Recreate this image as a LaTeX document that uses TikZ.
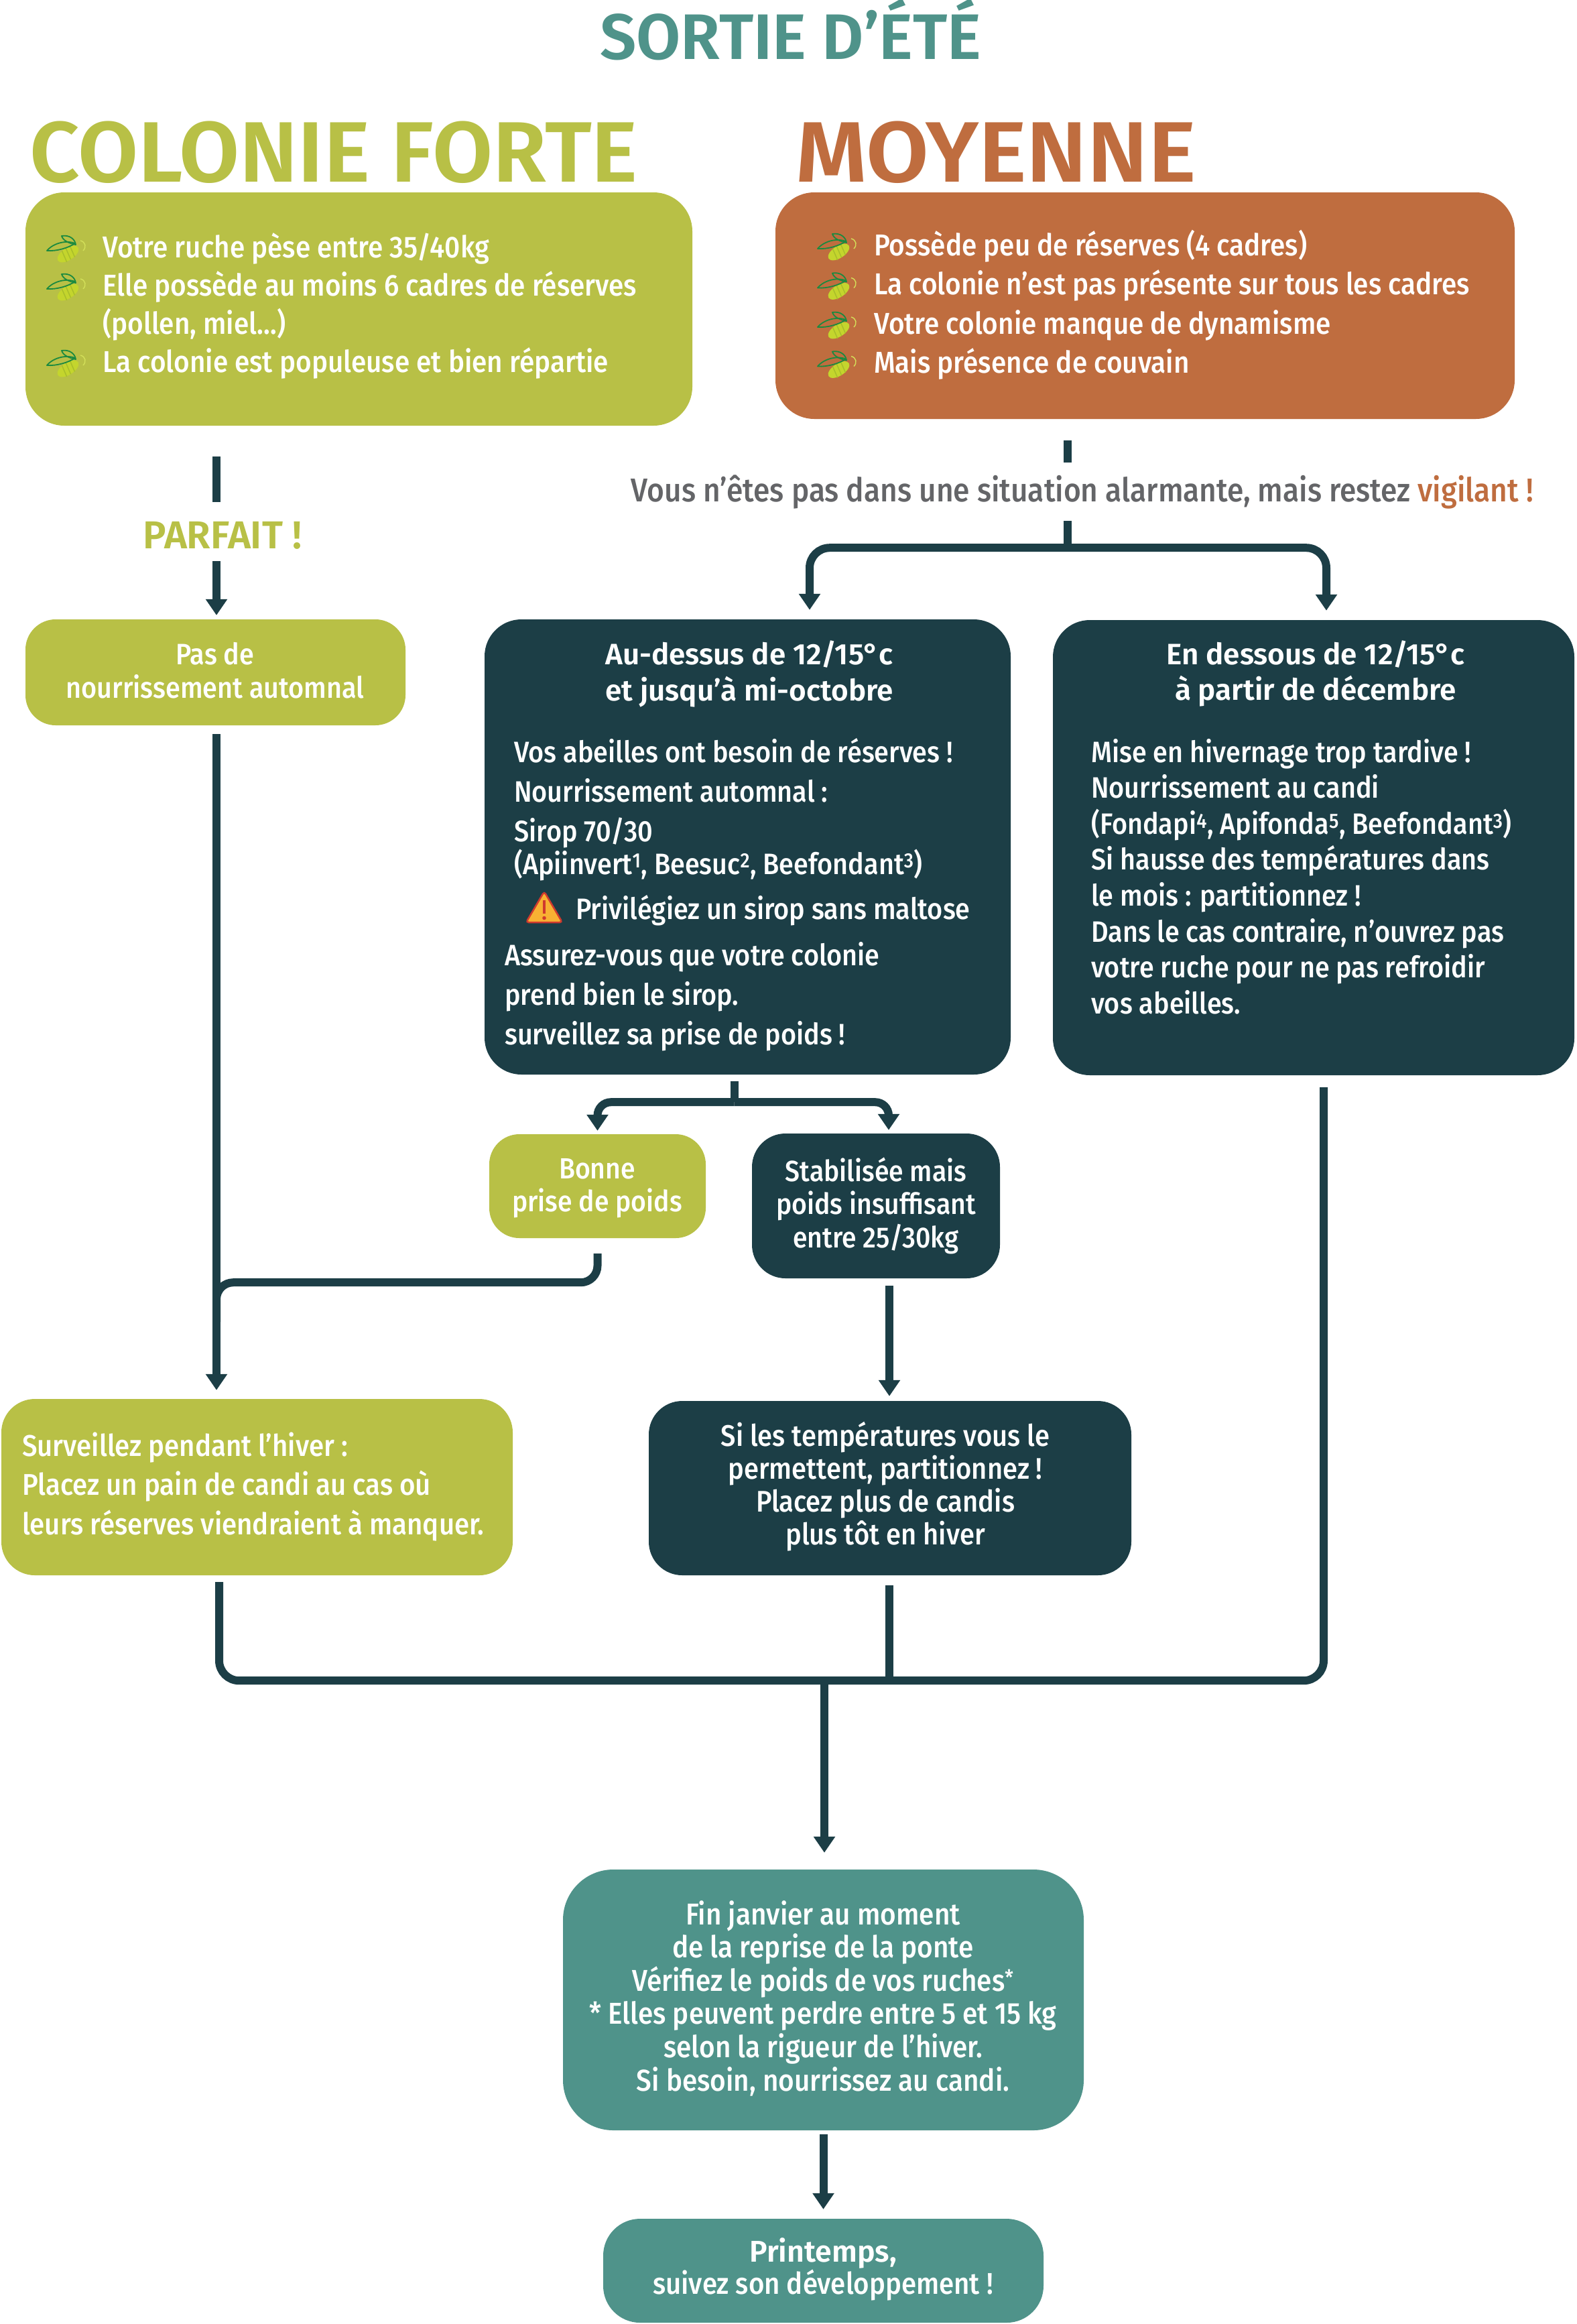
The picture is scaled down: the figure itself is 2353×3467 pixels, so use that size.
\documentclass[tikz,border=0pt]{standalone}
\usepackage{fontspec}
\setmainfont{Fira Sans}[UprightFont={* Medium}, BoldFont={* SemiBold}, FakeStretch=0.9]
\newfontfamily\headfont{Fira Sans}[UprightFont={* SemiBold}, BoldFont={* Bold}]
\usetikzlibrary{arrows.meta,calc}
\definecolor{cOlive}{HTML}{B8C046}
\definecolor{cRust}{HTML}{BF6D3F}
\definecolor{cDeep}{HTML}{1C3E46}
\definecolor{cSea}{HTML}{4F938A}
\definecolor{cGrey}{HTML}{646568}
\definecolor{cBeeWing}{HTML}{1B8A3F}
\definecolor{cBeeBody}{HTML}{C4D52D}
\definecolor{cBeeStripe}{HTML}{A9BE2A}
\definecolor{cBeeAnt}{HTML}{D3E05A}
\definecolor{cWarnFill}{HTML}{F8B133}
\definecolor{cWarnRed}{HTML}{D03A2E}
\newcommand\Lines[2]{\vtop{\baselineskip=#1\relax\lineskiplimit=-1000pt\relax\halign{##\hfil\cr#2\crcr}}}
\newcommand\CLines[2]{\vtop{\baselineskip=#1\relax\lineskiplimit=-1000pt\relax\halign{\hfil##\hfil\cr#2\crcr}}}
\newcommand\fs[1]{\fontsize{#1pt}{#1pt}\selectfont}
\begin{document}
\begin{tikzpicture}[x=1pt,y=-1pt,
  panel/.style={inner sep=0pt, draw=none},
  txt/.style={inner sep=0pt, text=white},
  conn/.style={draw=cDeep, line width=12pt},
  connarrow/.style={conn, -{Triangle[width=31pt,length=24pt]}},
  bee/.pic={
    \fill[cBeeBody, shift={(1.5,8)}, rotate=33] (0,0) ellipse [x radius=18pt, y radius=9pt];
    \foreach \s in {-8,-1,6} \draw[cBeeStripe, line width=1.5pt, shift={(1.5,8)}, rotate=33] (\s pt,-9pt) -- (\s pt+3pt,9pt);
    \draw[cBeeWing, line width=1.8pt, line join=round] (-30,3) .. controls (-20,-9) and (0,-13) .. (12,-8) .. controls (2,-1) and (-16,4) .. cycle;
    \draw[cBeeWing, line width=1.8pt, line join=round] (-8,-19) .. controls (4,-21) and (12,-14) .. (13,-6) .. controls (3,-8) and (-6,-12) .. cycle;
    \draw[cBeeAnt, line width=1.4pt] (20,-12) .. controls (28,-10) and (29,-2) .. (24,3);
  },
  warnsign/.pic={
    \filldraw[fill=cWarnFill, draw=cWarnRed, line width=2.5pt, rounded corners=4pt] (0,-24) -- (27,22) -- (-27,22) -- cycle;
    \draw[cWarnRed, line width=4.5pt] (0,-11) -- (0,9);
    \fill[cWarnRed] (0,15.5) circle (2.8pt);
  }
]
\fill[white] (0,0) rectangle (2353,3467);
\useasboundingbox (0,0) rectangle (2353,3467);

% ---------- titles ----------
\node[txt, text=cSea, anchor=base, font=\headfont\fs{96}] (title) at (1180,88) {SORTIE D’ÉTÉ};
\node[txt, text=cOlive, anchor=base west, font=\headfont\fs{128}] (hforte) at (44,271) {\scalebox{1.02}[1]{COLONIE FORTE}};
\node[txt, text=cRust, anchor=base west, font=\headfont\fs{128}] (hmoy) at (1187,271) {\scalebox{1.06}[1]{MOYENNE}};

% ---------- panels ----------
\node[panel, fill=cOlive, rounded corners=58pt, minimum width=995pt, minimum height=348pt] (forte) at (535.5,461) {};
\node[panel, fill=cRust, rounded corners=58pt, minimum width=1103pt, minimum height=338pt] (moy) at (1708.5,456) {};
\node[panel, fill=cOlive, rounded corners=45pt, minimum width=567pt, minimum height=158pt] (pasde) at (321.5,1003) {};
\node[panel, fill=cDeep, rounded corners=55pt, minimum width=785pt, minimum height=679pt] (audessus) at (1115.5,1263.5) {};
\node[panel, fill=cDeep, rounded corners=55pt, minimum width=778pt, minimum height=679pt] (endessous) at (1960,1264.5) {};
\node[panel, fill=cOlive, rounded corners=45pt, minimum width=323pt, minimum height=155pt] (bonne) at (891.5,1769.5) {};
\node[panel, fill=cDeep, rounded corners=50pt, minimum width=370pt, minimum height=216pt] (stab) at (1307,1799) {};
\node[panel, fill=cOlive, rounded corners=50pt, minimum width=763pt, minimum height=263pt] (surv) at (383.5,2218.5) {};
\node[panel, fill=cDeep, rounded corners=50pt, minimum width=720pt, minimum height=260pt] (siles) at (1328,2220) {};
\node[panel, fill=cSea, rounded corners=75pt, minimum width=777pt, minimum height=389pt] (fin) at (1228.5,2983.5) {};
\node[panel, fill=cSea, rounded corners=55pt, minimum width=657pt, minimum height=155pt] (print) at (1228.5,3387.5) {};

% ---------- texts ----------
\node[txt, anchor=base west, font=\fs{45}] (ftxt) at (153,384) {\Lines{57pt}{Votre ruche pèse entre 35/40kg\cr Elle possède au moins 6 cadres de réserves\cr (pollen, miel…)\cr La colonie est populeuse et bien répartie}};
\pic at (100,371) {bee};
\pic at (100,428) {bee};
\pic at (100,542) {bee};

\node[txt, anchor=base west, font=\fs{45}] (mtxt) at (1304,381) {\Lines{58.5pt}{Possède peu de réserves (4 cadres)\cr La colonie n’est pas présente sur tous les cadres\cr Votre colonie manque de dynamisme\cr Mais présence de couvain}};
\pic at (1250,368) {bee};
\pic at (1250,426.5) {bee};
\pic at (1250,485) {bee};
\pic at (1250,543.5) {bee};

\node[txt, anchor=base east, font=\fs{49.2}, text=cGrey] (vig) at (2288,748) {Vous n’êtes pas dans une situation alarmante, mais restez \textcolor{cRust}{vigilant !}};

\node[txt, anchor=base, font=\headfont\fs{58}, text=cOlive] (parfait) at (332,818) {PARFAIT !};

\node[txt, anchor=base, font=\fs{44}] (pasdetxt) at (321,991) {\CLines{50pt}{Pas de\cr nourrissement automnal}};

\node[txt, anchor=base, font=\headfont\fs{44}] (autitle) at (1118,991) {\CLines{54pt}{Au-dessus de 12/15°c\cr et jusqu’à mi-octobre}};
\node[txt, anchor=base west, font=\fs{44}] (aua) at (767,1137) {\Lines{59pt}{Vos abeilles ont besoin de réserves !\cr Nourrissement automnal :}};
\node[txt, anchor=base west, font=\fs{44}] (aub) at (767,1255) {\Lines{49pt}{Sirop 70/30\cr (Apiinvert\textsuperscript{1}, Beesuc\textsuperscript{2}, Beefondant\textsuperscript{3})}};
\pic at (812,1354) {warnsign};
\node[txt, anchor=base west, font=\fs{44}] (auw) at (859,1371) {Privilégiez un sirop sans maltose};
\node[txt, anchor=base west, font=\fs{44}] (auc) at (753,1440) {\Lines{59pt}{Assurez-vous que votre colonie\cr prend bien le sirop.\cr surveillez sa prise de poids !}};

\node[txt, anchor=base, font=\headfont\fs{44}] (entitle) at (1963,991) {\CLines{53pt}{En dessous de 12/15°c\cr à partir de décembre}};
\node[txt, anchor=base west, font=\fs{44}] (enbody) at (1628,1137) {\Lines{53.6pt}{Mise en hivernage trop tardive !\cr Nourrissement au candi\cr (Fondapi\textsuperscript{4}, Apifonda\textsuperscript{5}, Beefondant\textsuperscript{3})\cr Si hausse des températures dans\cr le mois : partitionnez !\cr Dans le cas contraire, n’ouvrez pas\cr votre ruche pour ne pas refroidir\cr vos abeilles.}};

\node[txt, anchor=base, font=\fs{43.5}] (bonnetxt) at (891,1758) {\CLines{49pt}{Bonne\cr prise de poids}};
\node[txt, anchor=base, font=\fs{43.5}] (stabtxt) at (1307,1762) {\CLines{49.5pt}{Stabilisée mais\cr poids insuffisant\cr entre 25/30kg}};
\node[txt, anchor=base west, font=\fs{44.7}] (survtxt) at (33,2172) {\Lines{58.5pt}{Surveillez pendant l’hiver :\cr Placez un pain de candi au cas où\cr leurs réserves viendraient à manquer.}};
\node[txt, anchor=base, font=\fs{44.4}] (silestxt) at (1321,2157) {\CLines{49pt}{Si les températures vous le\cr permettent, partitionnez !\cr Placez plus de candis\cr plus tôt en hiver}};
\node[txt, anchor=base, font=\fs{45}] (fintxt) at (1228,2871) {\CLines{49.6pt}{Fin janvier au moment\cr de la reprise de la ponte\cr Vérifiez le poids de vos ruches\textsuperscript{*}\cr * Elles peuvent perdre entre 5 et 15 kg\cr selon la rigueur de l’hiver.\cr Si besoin, nourrissez au candi.}};
\node[txt, anchor=base, font=\fs{44.7}] (printtxt) at (1228,3374) {\CLines{48pt}{\headfont Printemps,\cr suivez son développement !}};

% ---------- connectors ----------
% forte -> parfait -> pas de
\draw[conn] ($(pasde.north |- forte.south)+(1.5,46)$) -- ($(pasde.north |- forte.south)+(1.5,114)$);
\draw[connarrow] ($(pasde.north |- forte.south)+(1.5,202)$) -- ($(pasde.north)+(1.5,-6)$);

% moyenne -> split
\coordinate (split) at ($(moy.south)+(-115.5,192)$);
\draw[conn] ($(moy.south)+(-115.5,32)$) -- ($(moy.south)+(-115.5,65)$);
\draw[conn] ($(moy.south)+(-115.5,152)$) -- (split);
\draw[connarrow, rounded corners=30pt] (split) -| ($(audessus.north)+(92.5,-14)$);
\draw[connarrow, rounded corners=30pt] (split) -| ($(endessous.north)+(19,-14)$);

% au-dessus -> bonne / stab
\coordinate (split2) at ($(audessus.south)+(-20,41)$);
\draw[conn] ($(audessus.south)+(-20,10)$) -- (split2);
\draw[connarrow, rounded corners=20pt] (split2) -| ($(bonne.north)+(0,-5)$);
\draw[connarrow, rounded corners=20pt] (split2) -| ($(stab.north)+(19,-5)$);

% pas de -> surveillez
\draw[connarrow] ($(pasde.south)+(1.5,13)$) -- ($(pasde.south |- surv.north)+(1.5,-13)$);
% bonne -> join
\draw[conn, rounded corners=25pt] ($(bonne.south)+(0,23)$) |- ($(pasde.south)+(1.5,831)$) -- ($(pasde.south)+(1.5,890)$);

% stab -> si les
\draw[connarrow] ($(stab.south)+(20,11)$) -- ($(stab.south |- siles.north)+(20,-7)$);

% merge to fin
\coordinate (merge) at ($(fin.north)+(1.5,-282)$);
\draw[conn, rounded corners=30pt] ($(surv.south)+(-56.5,10)$) |- ($(endessous.south)+(15,903)$) -- ($(endessous.south)+(15,18)$);
\draw[conn] ($(siles.south)+(-1,15)$) -- ($(siles.south)+(-1,157)$);
\draw[connarrow] (merge) -- ($(fin.north)+(1.5,-25)$);

% fin -> printemps
\draw[connarrow] ($(fin.south)+(0,6)$) -- ($(print.north)+(0,-14)$);
\end{tikzpicture}
\end{document}
